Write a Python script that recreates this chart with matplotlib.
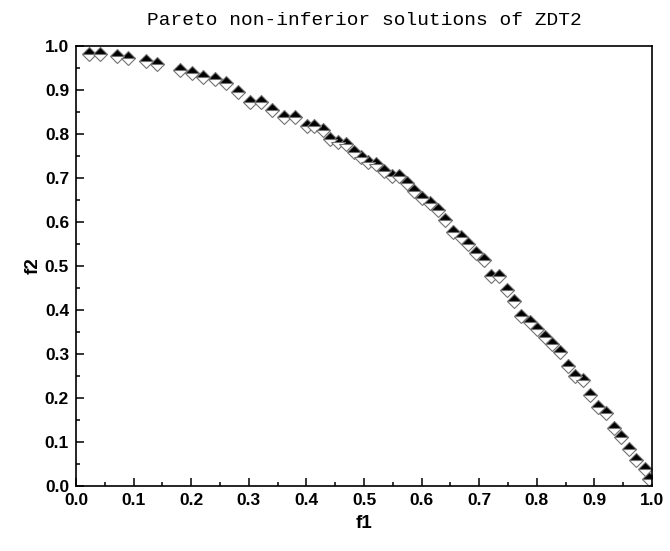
import numpy as np
import matplotlib
matplotlib.use('Agg')
import matplotlib.pyplot as plt
from matplotlib.ticker import MultipleLocator

# Pareto front points
f1 = [0.023, 0.042, 0.072, 0.091, 0.122, 0.141, 0.181, 0.201, 0.221, 0.241,
      0.260, 0.281, 0.302, 0.321, 0.341, 0.361, 0.380, 0.401, 0.414, 0.428,
      0.441, 0.454, 0.468, 0.482, 0.495, 0.507, 0.521, 0.535, 0.548, 0.561,
      0.574, 0.587, 0.601, 0.615, 0.628, 0.641, 0.655, 0.668, 0.681, 0.694,
      0.708, 0.721, 0.734, 0.748, 0.760, 0.773, 0.788, 0.800, 0.814, 0.827,
      0.841, 0.854, 0.867, 0.880, 0.893, 0.907, 0.920, 0.934, 0.947, 0.960,
      0.973, 0.987, 0.994]
f2 = [0.982, 0.982, 0.978, 0.973, 0.967, 0.959, 0.946, 0.939, 0.929, 0.924,
      0.917, 0.895, 0.873, 0.872, 0.855, 0.839, 0.839, 0.819, 0.819, 0.808,
      0.789, 0.781, 0.777, 0.758, 0.748, 0.736, 0.732, 0.717, 0.705, 0.705,
      0.688, 0.671, 0.654, 0.643, 0.627, 0.605, 0.578, 0.567, 0.549, 0.529,
      0.514, 0.478, 0.477, 0.446, 0.421, 0.387, 0.372, 0.357, 0.338, 0.322,
      0.304, 0.273, 0.251, 0.241, 0.207, 0.179, 0.165, 0.131, 0.111, 0.084,
      0.058, 0.038, 0.015]

title = 'Pareto non-inferior solutions of ZDT2'

plt.rcParams['font.family'] = ['Liberation Sans', 'DejaVu Sans']

fig = plt.figure(figsize=(6.7, 5.51), dpi=100)
ax = fig.add_axes([76 / 670, 1 - 486 / 551, 576 / 670, 440 / 551])

ax.plot(f1, f2, linestyle='none', marker='D', markersize=7.5,
        fillstyle='top', markerfacecolor='black', markerfacecoloralt='white',
        markeredgecolor='0.45', markeredgewidth=0.8)

ax.set_xlim(0, 1)
ax.set_ylim(0, 1)
ax.xaxis.set_major_locator(MultipleLocator(0.1))
ax.xaxis.set_minor_locator(MultipleLocator(0.05))
ax.yaxis.set_major_locator(MultipleLocator(0.1))
ax.yaxis.set_minor_locator(MultipleLocator(0.05))
ax.xaxis.set_major_formatter(plt.FormatStrFormatter('%.1f'))
ax.yaxis.set_major_formatter(plt.FormatStrFormatter('%.1f'))

ax.tick_params(which='both', direction='in', top=False, right=False,
               width=1.1, labelsize=12.5, pad=5)
ax.tick_params(which='major', length=6)
ax.tick_params(which='minor', length=3)
for lbl in ax.get_xticklabels() + ax.get_yticklabels():
    lbl.set_fontweight('bold')
for sp in ax.spines.values():
    sp.set_linewidth(1.2)

ax.set_xlabel('f1', fontsize=13.5, fontweight='bold', labelpad=5)
ax.set_ylabel('f2', fontsize=13.5, fontweight='bold', labelpad=2)
ax.set_title(title, family='Liberation Mono', fontsize=14, pad=15)

fig.savefig('out.png', dpi=100)
